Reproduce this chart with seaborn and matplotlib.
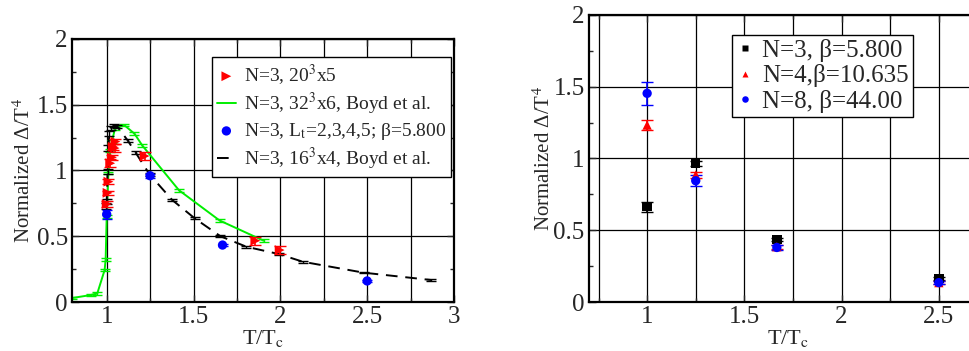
import numpy as np
import pandas as pd
import matplotlib
matplotlib.use("Agg")
import matplotlib.pyplot as plt
import seaborn as sns
from matplotlib.ticker import MultipleLocator

# ---- left panel data ----
red_x = [1.00, 1.005, 1.01, 1.02, 1.03, 1.035, 1.045, 1.05, 1.218, 1.856, 1.996]
red_y = [0.745, 0.83, 0.915, 1.055, 1.10, 1.18, 1.17, 1.22, 1.11, 0.466, 0.395]
red_err = [0.02, 0.015, 0.02, 0.03, 0.02, 0.025, 0.03, 0.02, 0.03, 0.03, 0.03]

green_x = [0.80, 0.908, 0.946, 0.988, 0.994, 1.00, 1.01, 1.02, 1.03, 1.048, 1.10, 1.16, 1.205, 1.416, 1.65, 1.904]
green_y = [0.03, 0.053, 0.066, 0.243, 0.325, 0.65, 0.98, 1.15, 1.22, 1.32, 1.346, 1.28, 1.19, 0.85, 0.62, 0.466]
green_err = [0.01, 0.01, 0.01, 0.01, 0.01, 0.01, 0.01, 0.01, 0.01, 0.01, 0.01, 0.01, 0.01, 0.01, 0.01, 0.01]

blue_x = [1.0, 1.25, 1.667, 2.5]
blue_y = [0.667, 0.96, 0.433, 0.16]
blue_err = [0.035, 0.015, 0.01, 0.01]

black_x = [0.995, 1.0, 1.005, 1.01, 1.015, 1.025, 1.042, 1.06, 1.12, 1.167, 1.247,
           1.377, 1.507, 1.655, 1.805, 1.99, 2.13, 2.48, 2.87]
black_y = [0.73, 0.763, 0.99, 1.17, 1.28, 1.32, 1.34, 1.335, 1.23, 1.135, 0.97,
           0.776, 0.636, 0.50, 0.42, 0.365, 0.306, 0.223, 0.167]
black_err = [0.02, 0.02, 0.02, 0.02, 0.02, 0.015, 0.01, 0.01, 0.01, 0.01, 0.01,
             0.01, 0.008, 0.008, 0.008, 0.008, 0.006, 0.006, 0.006]

# ---- right panel data ----
tt = [1.0, 1.25, 1.667, 2.5]
n3_y = [0.664, 0.966, 0.437, 0.165]
n3_err = [0.035, 0.015, 0.012, 0.01]
n4_y = [1.233, 0.885, 0.385, 0.135]
n4_err = [0.033, 0.02, 0.015, 0.01]
n8_y = [1.454, 0.845, 0.38, 0.135]
n8_err = [0.08, 0.04, 0.015, 0.01]

sns.set_style("ticks")
plt.rcParams["font.family"] = ["Liberation Serif", "DejaVu Serif"]
plt.rcParams["mathtext.fontset"] = "stix"

fig = plt.figure(figsize=(9.70, 3.51), dpi=100)
ax1 = fig.add_axes([0.0742, 0.1396, 0.3938, 0.7494])
ax2 = fig.add_axes([0.607, 0.1396, 0.411, 0.8177])

ylab = r"Normalized Δ/T$^4$"
xlab = r"T/T$_{\rm c}$"


def style_axis(ax, xlim, xticks, ylab_x):
    ax.set_xlim(*xlim)
    ax.set_ylim(0, 2)
    ax.set_xticks(xticks)
    ax.set_xticklabels([f"{t:g}" for t in xticks])
    ax.set_yticks([0, 0.5, 1, 1.5, 2])
    ax.set_yticklabels(["0", "0.5", "1", "1.5", "2"])
    ax.xaxis.set_minor_locator(MultipleLocator(0.25))
    ax.yaxis.set_minor_locator(MultipleLocator(0.25))
    ax.grid(True, which="major", axis="both", color="black", lw=0.9)
    ax.grid(True, which="minor", axis="x", color="black", lw=0.9)
    ax.set_axisbelow(True)
    ax.tick_params(which="both", direction="in", top=True, right=True, labelsize=18, pad=3)
    ax.tick_params(which="major", length=5, width=1)
    ax.tick_params(which="minor", length=3, width=1)
    for s in ax.spines.values():
        s.set_linewidth(1.6)
        s.set_color("black")
    ax.set_xlabel(xlab, fontsize=16, labelpad=0)
    ax.set_ylabel(ylab, fontsize=15)
    ax.yaxis.set_label_coords(ylab_x, 0.5)


# left panel
ax1.errorbar(green_x, green_y, yerr=green_err, fmt="none", ecolor="#00ee00", capsize=3.5, elinewidth=1)
sns.lineplot(x=green_x, y=green_y, ax=ax1, color="#00ee00", lw=1.4, sort=False,
             label=r"N=3, 32$^3$x6, Boyd et al.", estimator=None)
ax1.errorbar(black_x, black_y, yerr=black_err, fmt="none", ecolor="black", capsize=3.5, elinewidth=1)
sns.lineplot(x=black_x, y=black_y, ax=ax1, color="black", lw=1.4, sort=False, estimator=None,
             dashes=False, label=r"N=3, 16$^3$x4, Boyd et al.")
ax1.lines[-1].set_dashes([6, 4])
ax1.errorbar(red_x, red_y, yerr=red_err, fmt="none", ecolor="red", capsize=4, elinewidth=1.2)
sns.scatterplot(x=red_x, y=red_y, ax=ax1, color="red", marker=">", s=50, edgecolor="none",
                label=r"N=3, 20$^3$x5", zorder=4)
ax1.errorbar(blue_x, blue_y, yerr=blue_err, fmt="none", ecolor="blue", capsize=3.5, elinewidth=1)
sns.scatterplot(x=blue_x, y=blue_y, ax=ax1, color="blue", marker="o", s=45, edgecolor="none",
                label=r"N=3, L$_{\rm t}$=2,3,4,5; β=5.800", zorder=4)

h, l = ax1.get_legend_handles_labels()
order = [2, 0, 3, 1]
leg1 = ax1.legend([h[i] for i in order], [l[i] for i in order], loc="upper left",
                  bbox_to_anchor=(0.366, 0.93), fontsize=14, frameon=True, fancybox=False,
                  edgecolor="black", framealpha=1, handlelength=1.0, handletextpad=0.4,
                  borderpad=0.25, labelspacing=0.2, borderaxespad=0)
leg1.get_frame().set_linewidth(1)
style_axis(ax1, (0.8, 3.0), [1, 1.5, 2, 2.5, 3], -0.097)

# right panel
df = pd.DataFrame({
    "T": tt * 3,
    "y": n3_y + n4_y + n8_y,
    "err": n3_err + n4_err + n8_err,
    "set": ["N=3, β=5.800"] * 4 + ["N=4,β=10.635"] * 4 + ["N=8, β=44.00"] * 4,
})
colors = {"N=3, β=5.800": "black", "N=4,β=10.635": "red", "N=8, β=44.00": "blue"}
markers = {"N=3, β=5.800": "s", "N=4,β=10.635": "^", "N=8, β=44.00": "o"}
for name, g in df.groupby("set", sort=False):
    ax2.errorbar(g["T"], g["y"], yerr=g["err"], fmt="none", ecolor=colors[name], capsize=4, elinewidth=1.2)
sns.scatterplot(data=df, x="T", y="y", hue="set", style="set", palette=colors, markers=markers,
                s=45, edgecolor="none", ax=ax2, zorder=4)
leg2 = ax2.legend(loc="upper left", bbox_to_anchor=(0.36, 0.93), fontsize=18, frameon=True,
                  fancybox=False, edgecolor="black", framealpha=1, handlelength=0.7,
                  handletextpad=0.35, borderpad=0.15, labelspacing=0.1, borderaxespad=0,
                  markerscale=0.7)
leg2.get_frame().set_linewidth(1)
style_axis(ax2, (0.7, 2.75), [1, 1.5, 2, 2.5], -0.085)

fig.savefig("out.png", dpi=100)
